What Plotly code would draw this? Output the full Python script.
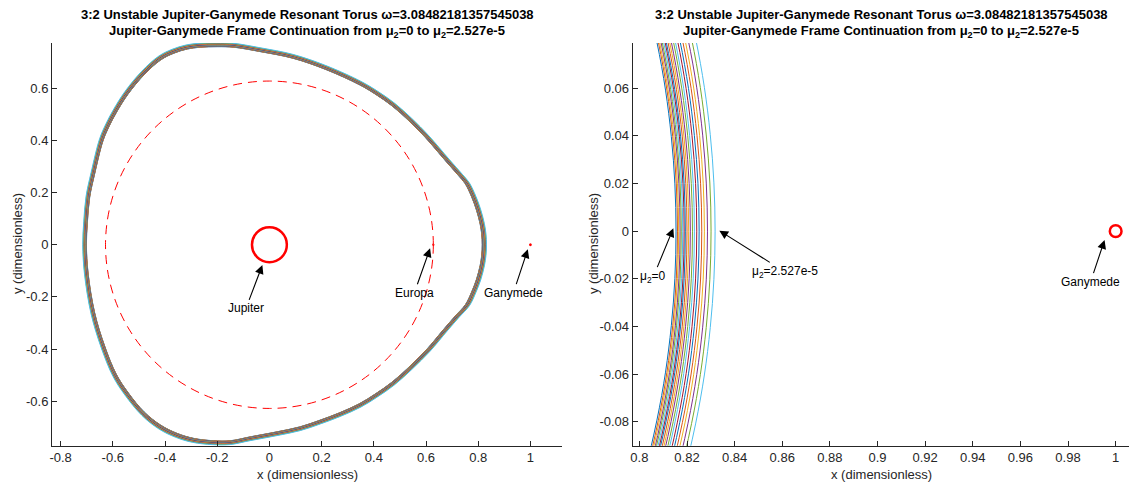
import plotly.graph_objects as go

W, H = 1133, 487

# ---- data ----
# mid-band torus curve (left panel), closed loop
torus_x = [-0.7068, -0.703, -0.6941, -0.675, -0.6428, -0.6186, -0.5918, -0.547, -0.4833, -0.4193,
           -0.3683, -0.317, -0.266, -0.202, -0.1384, -0.036, 0.0916, 0.2196, 0.3473, 0.4113,
           0.4749, 0.5389, 0.6029, 0.6796, 0.7305, 0.7562, 0.7815, 0.8000, 0.8139, 0.8200,
           0.8220, 0.8200, 0.8139, 0.8000, 0.7815, 0.7574, 0.719, 0.673, 0.608, 0.539,
           0.474, 0.409, 0.347, 0.2706, 0.194, 0.1173, 0.028, -0.0744, -0.151, -0.215,
           -0.2917, -0.3553, -0.4193, -0.4833, -0.547, -0.5918, -0.6366, -0.675, -0.7003, -0.7068]
torus_y = [0.000, 0.087, 0.184, 0.274, 0.402, 0.459, 0.510, 0.581, 0.658, 0.715,
           0.741, 0.757, 0.764, 0.766, 0.764, 0.747, 0.721, 0.677, 0.619, 0.581,
           0.536, 0.479, 0.414, 0.325, 0.267, 0.236, 0.184, 0.133, 0.080, 0.040,
           0.000, -0.040, -0.080, -0.133, -0.1815, -0.231, -0.274, -0.327, -0.404, -0.473,
           -0.531, -0.577, -0.615, -0.650, -0.679, -0.7045, -0.7237, -0.743, -0.758, -0.758,
           -0.749, -0.730, -0.698, -0.647, -0.570, -0.500, -0.391, -0.263, -0.110, 0.000]
torus_nose_mid = 0.822
# x where each continuation curve crosses y=0 (right panel), mu2 = 0 ... 2.527e-5
nose_x = [0.8154, 0.8160, 0.8165, 0.8171, 0.8176, 0.8182, 0.8188, 0.8193, 0.8200, 0.8207,
          0.8214, 0.8223, 0.8231, 0.8241, 0.8251, 0.8262, 0.8273, 0.8286, 0.8301, 0.8318]
colors = ['#0072BD', '#D95319', '#EDB120', '#7E2F8E', '#77AC30', '#4DBEEE', '#A2142F']

jupiter_x, jupiter_r = 0.0, 0.0668
europa_orbit_r = 0.628
europa_x, europa_r = 0.628, 0.0015
ganymede_x, ganymede_r = 1.0, 0.00246

left_xticks = [-0.8, -0.6, -0.4, -0.2, 0, 0.2, 0.4, 0.6, 0.8, 1]
left_xtext = ['-0.8', '-0.6', '-0.4', '-0.2', '0', '0.2', '0.4', '0.6', '0.8', '1']
left_yticks = [-0.6, -0.4, -0.2, 0, 0.2, 0.4, 0.6]
left_ytext = ['-0.6', '-0.4', '-0.2', '0', '0.2', '0.4', '0.6']
right_xticks = [0.8, 0.82, 0.84, 0.86, 0.88, 0.9, 0.92, 0.94, 0.96, 0.98, 1]
right_xtext = ['0.8', '0.82', '0.84', '0.86', '0.88', '0.9', '0.92', '0.94', '0.96', '0.98', '1']
right_yticks = [-0.08, -0.06, -0.04, -0.02, 0, 0.02, 0.04, 0.06]
right_ytext = ['-0.08', '-0.06', '-0.04', '-0.02', '0', '0.02', '0.04', '0.06']

title1 = '<b>3:2 Unstable Jupiter-Ganymede Resonant Torus ω=3.08482181357545038</b>'
title2 = '<b>Jupiter-Ganymede Frame Continuation from μ<sub>2</sub>=0 to μ<sub>2</sub>=2.527e-5</b>'

FONT = 'Liberation Sans, Arial, Helvetica, sans-serif'
AX = '#262626'

fig = go.Figure()
for k, nx in enumerate(nose_x):
    s = nx / torus_nose_mid
    xs = [v * s for v in torus_x]
    ys = [v * s for v in torus_y]
    c = colors[k % len(colors)]
    for xa, ya in (('x', 'y'), ('x2', 'y2')):
        fig.add_trace(go.Scatter(x=xs, y=ys, mode='lines', xaxis=xa, yaxis=ya,
                                 line=dict(color=c, width=1, shape='spline', smoothing=1),
                                 showlegend=False, hoverinfo='skip'))


def px_x(p):
    return p / W


def px_y(p):
    return 1 - p / H


def axis_style(dom, rng, tv, tt, anchor):
    return dict(domain=dom, range=rng, tickvals=tv, ticktext=tt, anchor=anchor, automargin=False,
                showline=True, linecolor=AX, linewidth=1, ticks='inside', ticklen=5,
                tickwidth=1, tickcolor=AX, showgrid=False, zeroline=False, mirror=False,
                tickfont=dict(family=FONT, size=13, color=AX), fixedrange=True)


ydom = [px_y(445.7), px_y(43)]
fig.update_layout(
    width=W, height=H, margin=dict(l=0, r=0, t=0, b=0, autoexpand=False),
    paper_bgcolor='white', plot_bgcolor='white',
    xaxis=axis_style([px_x(52), px_x(562)], [-0.833, 1.121], left_xticks, left_xtext, 'y'),
    yaxis=axis_style(ydom, [-0.771, 0.774], left_yticks, left_ytext, 'x'),
    xaxis2=axis_style([px_x(632.7), px_x(1129)], [0.7972, 1.0056], right_xticks, right_xtext, 'y2'),
    yaxis2=axis_style(ydom, [-0.0901, 0.0790], right_yticks, right_ytext, 'x2'),
)

shapes = [
    dict(type='circle', xref='x', yref='y', x0=-europa_orbit_r, x1=europa_orbit_r,
         y0=-europa_orbit_r, y1=europa_orbit_r, line=dict(color='#FF0000', width=1, dash='9px,6px')),
    dict(type='circle', xref='x', yref='y', x0=jupiter_x - jupiter_r, x1=jupiter_x + jupiter_r,
         y0=-jupiter_r, y1=jupiter_r, line=dict(color='#FF0000', width=2.5)),
    dict(type='circle', xref='x', yref='y', x0=europa_x - europa_r, x1=europa_x + europa_r,
         y0=-europa_r, y1=europa_r, line=dict(color='#FF0000', width=1.5)),
    dict(type='circle', xref='x', yref='y', x0=ganymede_x - ganymede_r, x1=ganymede_x + ganymede_r,
         y0=-ganymede_r, y1=ganymede_r, line=dict(color='#FF0000', width=1.5)),
    dict(type='circle', xref='x2', yref='y2', x0=ganymede_x - ganymede_r, x1=ganymede_x + ganymede_r,
         y0=-ganymede_r, y1=ganymede_r, line=dict(color='#FF0000', width=2.5)),
]
fig.update_layout(shapes=shapes)

ann = []
for cx in (307, 881):
    ann.append(dict(xref='paper', yref='paper', x=px_x(cx), y=px_y(15), text=title1, showarrow=False,
                    xanchor='center', yanchor='middle', font=dict(family=FONT, size=13, color='black')))
    ann.append(dict(xref='paper', yref='paper', x=px_x(cx), y=px_y(31), text=title2, showarrow=False,
                    xanchor='center', yanchor='middle', font=dict(family=FONT, size=13, color='black')))
for cx in (307, 881):
    ann.append(dict(xref='paper', yref='paper', x=px_x(cx), y=px_y(474), text='x (dimensionless)',
                    showarrow=False, xanchor='center', yanchor='middle',
                    font=dict(family=FONT, size=13, color=AX)))
for cx in (17, 593):
    ann.append(dict(xref='paper', yref='paper', x=px_x(cx), y=px_y(244), text='y (dimensionless)',
                    showarrow=False, xanchor='center', yanchor='middle', textangle=-90,
                    font=dict(family=FONT, size=13, color=AX)))

labels = [
    ('x', 'y', -0.027, -0.078, -0.090, -0.244, 'Jupiter'),
    ('x', 'y', 0.6156, -0.0138, 0.5554, -0.184, 'Europa'),
    ('x', 'y', 0.990, -0.0177, 0.935, -0.184, 'Ganymede'),
    ('x2', 'y2', 0.81427, 0.0012, 0.80588, -0.0191, 'μ<sub>2</sub>=0'),
    ('x2', 'y2', 0.83359, 0.0002, 0.8611, -0.0171, 'μ<sub>2</sub>=2.527e-5'),
    ('x2', 'y2', 0.99534, -0.0037, 0.98950, -0.0212, 'Ganymede'),
]
for xr, yr, hx, hy, tx, ty, t in labels:
    ann.append(dict(xref=xr, yref=yr, axref=xr, ayref=yr, x=hx, y=hy, ax=tx, ay=ty, text=t,
                    showarrow=True, arrowhead=2, arrowsize=1.6, arrowwidth=1.1, arrowcolor='black',
                    standoff=0, font=dict(family=FONT, size=12, color='black')))
fig.update_layout(annotations=ann)

fig.write_html('out.html', config={'displayModeBar': False},
               post_script="document.body.style.margin='0';document.body.style.padding='0';"
                           "document.documentElement.style.overflow='hidden';")
